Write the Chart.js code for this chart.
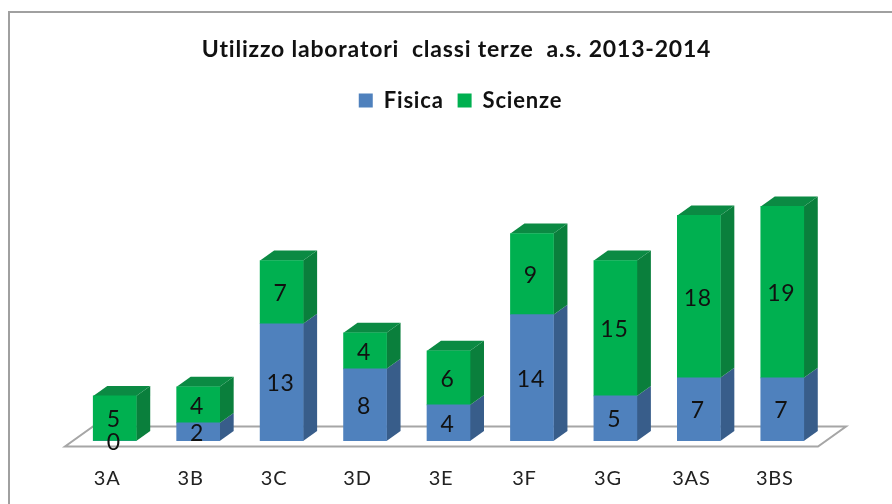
<!DOCTYPE html>
<html>
<head>
<meta charset="utf-8">
<script src="https://cdn.jsdelivr.net/npm/chart.js@4"></script>
<style>
html, body { margin: 0; padding: 0; background: #fff; }
#wrap { position: relative; width: 892px; height: 504px; }
canvas { display: block; }
</style>
</head>
<body>
<div id="wrap"><canvas id="chart" width="892" height="504"></canvas></div>
<script>
const categories = ['3A', '3B', '3C', '3D', '3E', '3F', '3G', '3AS', '3BS'];
const fisica = [0, 2, 13, 8, 4, 14, 5, 7, 7];
const scienze = [5, 4, 7, 4, 6, 9, 15, 18, 19];

const colors = {
    blue: '#4f81bd', blueSide: '#385d8a',
    green: '#00b050', greenSide: '#0a7f3c', greenTop: '#0b8a43',
    floor: '#a6a6a6', frame: '#a0a0a0', text: '#111111'
};
const depth = { x: 14, y: 10 };

// Fake 3D: floor and the side/top faces, drawn behind the real bars
const depthPlugin = {
    id: 'depth',
    beforeDatasetsDraw(chart) {
        const ctx = chart.ctx;
        const area = chart.chartArea;
        const base = chart.scales.y.getPixelForValue(0);

        // floor
        ctx.save();
        ctx.strokeStyle = colors.floor;
        ctx.lineWidth = 2;
        ctx.beginPath();
        ctx.moveTo(area.left - 8, base + 5.5);
        ctx.lineTo(area.right - 6, base + 5.5);
        ctx.lineTo(area.right + 22, base - 14.5);
        ctx.lineTo(area.left + 20, base - 14.5);
        ctx.closePath();
        ctx.stroke();

        chart.data.datasets.forEach((ds, d) => {
            chart.getDatasetMeta(d).data.forEach((bar, i) => {
                if (ds.data[i] === 0) return;
                const half = bar.width / 2;
                const right = bar.x + half;
                const left = bar.x - half;
                ctx.fillStyle = d === 0 ? colors.blueSide : colors.greenSide;
                ctx.beginPath();
                ctx.moveTo(right, bar.base);
                ctx.lineTo(right + depth.x, bar.base - depth.y);
                ctx.lineTo(right + depth.x, bar.y - depth.y);
                ctx.lineTo(right, bar.y);
                ctx.closePath();
                ctx.fill();
                if (d === 1) {
                    ctx.fillStyle = colors.greenTop;
                    ctx.beginPath();
                    ctx.moveTo(left, bar.y);
                    ctx.lineTo(left + depth.x, bar.y - depth.y);
                    ctx.lineTo(right + depth.x, bar.y - depth.y);
                    ctx.lineTo(right, bar.y);
                    ctx.closePath();
                    ctx.fill();
                }
            });
        });
        ctx.restore();
    },
    afterDatasetsDraw(chart) {
        // value labels on top of every segment
        const ctx = chart.ctx;
        ctx.save();
        ctx.font = '23px Lato';
        ctx.fillStyle = colors.text;
        ctx.textAlign = 'center';
        ctx.textBaseline = 'middle';
        chart.data.datasets.forEach((ds, d) => {
            chart.getDatasetMeta(d).data.forEach((bar, i) => {
                ctx.fillText(ds.data[i], bar.x - 1, (bar.y + bar.base) / 2 + 1.5);
            });
        });
        ctx.restore();
    }
};

const framePlugin = {
    id: 'frame',
    beforeUpdate(chart) {
        // The reference text is wider than any installed font, so space it out
        chart.ctx.letterSpacing = '0.8px';
    },
    beforeDraw(chart) {
        const ctx = chart.ctx;
        ctx.letterSpacing = '0.8px';
        ctx.save();
        ctx.strokeStyle = colors.frame;
        ctx.lineWidth = 2;
        ctx.beginPath();
        ctx.moveTo(9, 504);
        ctx.lineTo(9, 12);
        ctx.lineTo(892, 12);
        ctx.stroke();
        ctx.restore();
    },
    afterLayout(chart) {
        // title and legend sit right of the canvas centre in the reference
        chart.titleBlock.left += 8;
        chart.titleBlock.right += 8;
        chart.legend.left += 12;
        chart.legend.right += 12;
    }
};

new Chart('chart', {
    type: 'bar',
    data: {
        labels: categories,
        datasets: [
            { label: 'Fisica', data: fisica, backgroundColor: colors.blue, stack: 's' },
            { label: 'Scienze', data: scienze, backgroundColor: colors.green, stack: 's' }
        ]
    },
    options: {
        responsive: false,
        animation: false,
        layout: { padding: { left: 73, right: 68, top: 36, bottom: 0 } },
        datasets: { bar: { barThickness: 43, borderSkipped: false } },
        plugins: {
            tooltip: { enabled: false },
            title: {
                display: true,
                text: 'Utilizzo laboratori  classi terze  a.s. 2013-2014',
                color: '#111',
                font: { family: 'Lato', size: 23, weight: 'bold' },
                padding: { top: 0, bottom: 12 }
            },
            legend: {
                position: 'top',
                labels: {
                    color: '#111',
                    font: { family: 'Lato', size: 22, weight: 'bold' },
                    boxWidth: 14,
                    boxHeight: 14,
                    padding: 14
                }
            }
        },
        scales: {
            x: {
                stacked: true,
                afterFit(scale) { scale.height = 63; },
                grid: { display: false, drawTicks: false },
                border: { display: false },
                ticks: { color: '#222', font: { family: 'Lato', size: 20 }, padding: 26, labelOffset: -7.5 }
            },
            y: {
                stacked: true,
                display: false,
                min: 0,
                max: 35.4
            }
        }
    },
    plugins: [depthPlugin, framePlugin]
});
</script>
</body>
</html>
